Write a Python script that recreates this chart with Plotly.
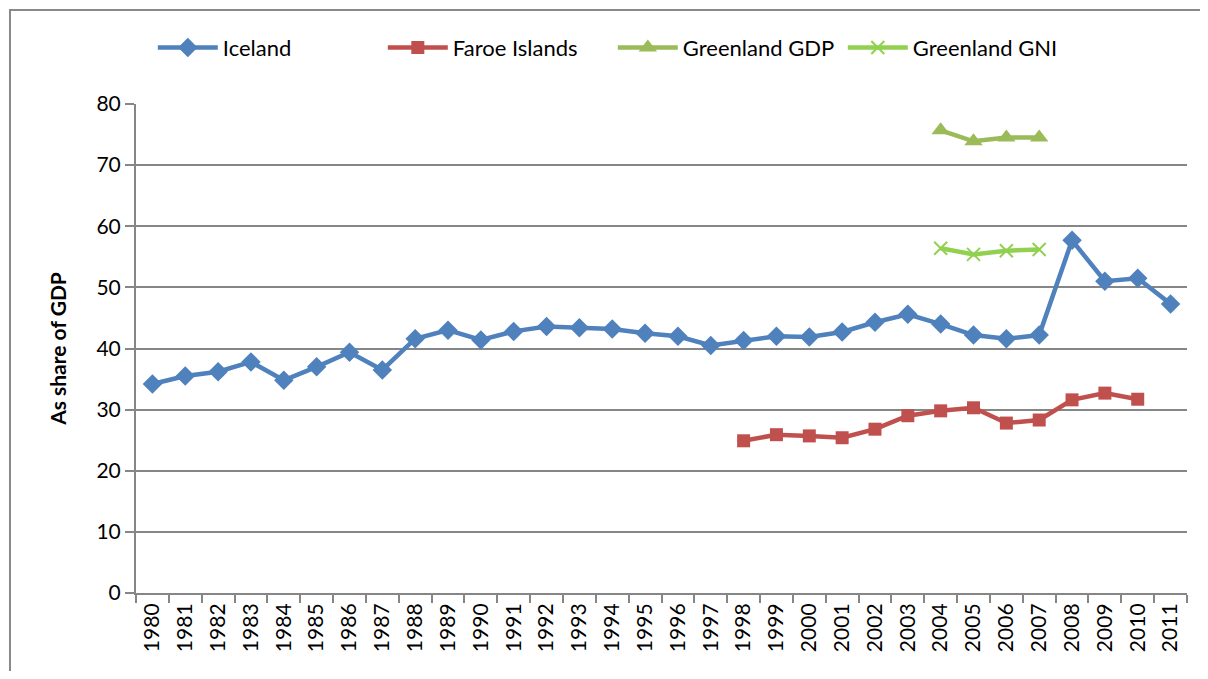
import plotly.graph_objects as go

years = [str(y) for y in range(1980, 2012)]

iceland = [34.2, 35.5, 36.2, 37.8, 34.8, 37.0, 39.4, 36.5, 41.6, 43.0,
           41.4, 42.8, 43.6, 43.4, 43.2, 42.5, 42.0, 40.5, 41.3, 42.0,
           41.9, 42.7, 44.3, 45.6, 44.0, 42.2, 41.6, 42.2, 57.7, 51.0,
           51.5, 47.3]

faroe_years = [str(y) for y in range(1998, 2011)]
faroe = [24.9, 25.9, 25.7, 25.4, 26.8, 29.0, 29.8, 30.3, 27.8, 28.3,
         31.6, 32.7, 31.7]

greenland_years = ['2004', '2005', '2006', '2007']
greenland_gdp = [75.7, 73.9, 74.5, 74.5]
greenland_gni = [56.4, 55.4, 56.0, 56.2]

GRID = '#868686'
FONT = 'Lato'

fig = go.Figure()

fig.add_trace(go.Scatter(
    x=years, y=iceland, name='Iceland', mode='lines+markers',
    line=dict(color='#4F81BD', width=4.5),
    marker=dict(symbol='diamond', size=15, color='#4F81BD')))

fig.add_trace(go.Scatter(
    x=faroe_years, y=faroe, name='Faroe Islands', mode='lines+markers',
    line=dict(color='#C0504D', width=4.5),
    marker=dict(symbol='square', size=13, color='#C0504D')))

fig.add_trace(go.Scatter(
    x=greenland_years, y=greenland_gdp, name='Greenland GDP', mode='lines+markers',
    line=dict(color='#9BBB59', width=4.5),
    marker=dict(symbol='triangle-up', size=16, color='#9BBB59')))

fig.add_trace(go.Scatter(
    x=greenland_years, y=greenland_gni, name='Greenland GNI', mode='lines+markers',
    line=dict(color='#92D050', width=4.5),
    marker=dict(symbol='x-thin', size=13, color='#92D050',
                line=dict(color='#92D050', width=2))))

# outer chart frame (Excel style)
fig.add_shape(type='rect', xref='paper', yref='paper',
              x0=-0.1199, x1=1.03, y0=-0.21, y1=1.1922,
              line=dict(color='#898989', width=2), layer='below')

# page body has an 8px margin, so the figure is sized to fit inside it
fig.update_layout(
    width=1192, height=663,
    margin=dict(l=128, r=13, t=96, b=78, autoexpand=False),
    paper_bgcolor='white', plot_bgcolor='white',
    font=dict(family=FONT, size=21, color='black'),
    showlegend=True,
    legend=dict(orientation='h', x=0.016, xanchor='left',
                yref='container', y=0.94, yanchor='middle',
                bgcolor='rgba(0,0,0,0)',
                font=dict(size=22), itemwidth=60,
                entrywidth=155, entrywidthmode='pixels'),
)

fig.update_xaxes(
    type='category', range=[-0.5, 31.5], tickangle=-90, showgrid=False,
    showline=True, linecolor=GRID, linewidth=2,
    ticks='outside', tickson='boundaries', ticklen=8, tickcolor=GRID, tickwidth=2,
    tickfont=dict(size=21))

fig.update_yaxes(
    range=[0, 80], dtick=10, showgrid=True, gridcolor=GRID, gridwidth=2,
    showline=True, linecolor=GRID, linewidth=2, zeroline=False,
    ticks='outside', ticklen=9, tickcolor=GRID, tickwidth=2,
    tickfont=dict(size=21),
    title=dict(text='<b>As share of GDP</b>', font=dict(size=21), standoff=24))

fig.write_html("out.html")
